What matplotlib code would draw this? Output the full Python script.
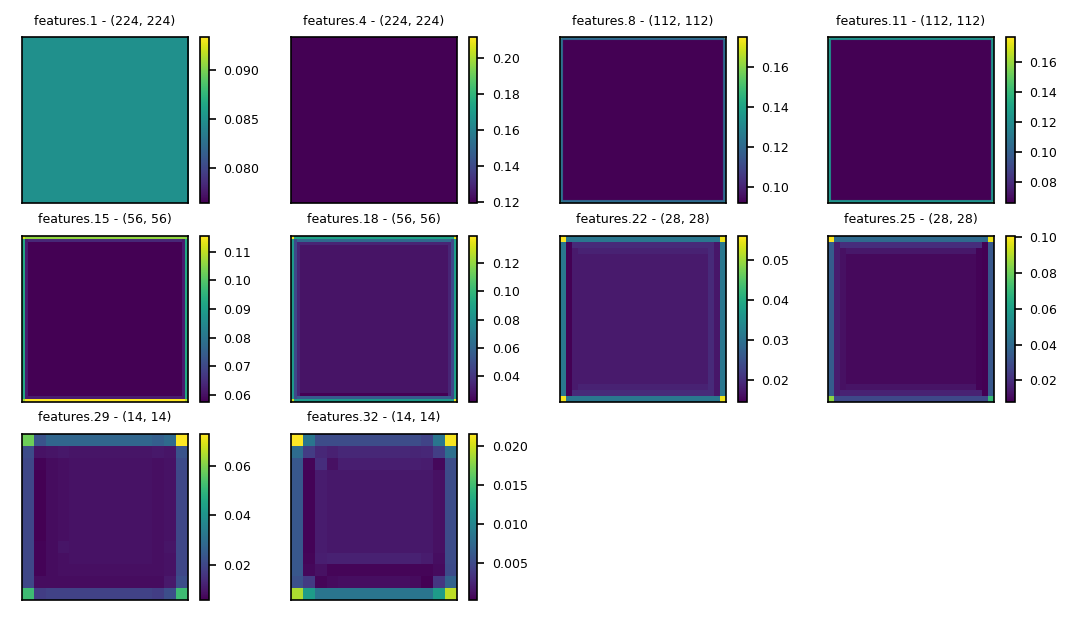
import numpy as np
import matplotlib
matplotlib.use("Agg")
import matplotlib.pyplot as plt

# layer names and map sizes
layer_names = ["features.1", "features.4", "features.8", "features.11", "features.15",
               "features.18", "features.22", "features.25", "features.29", "features.32"]
map_sizes = [224, 224, 112, 112, 56, 56, 28, 28, 14, 14]

# large maps described by rings (outermost first): top, bottom, left, right
# plus centre value and corners (TL, TR, BL, BR)
ring_center = [0.0849, 0.1193, 0.0918, 0.0662, 0.0575, 0.0280, 0.0175, 0.0105]
ring_top = [[], [0.1193], [0.123, 0.120], [0.125, 0.122], [0.106, 0.064], [0.090, 0.062, 0.034],
            [0.031, 0.0195, 0.0185], [0.040, 0.020, 0.014]]
ring_bottom = [[], [0.1193], [0.123, 0.120], [0.125, 0.122], [0.1155, 0.062], [0.085, 0.055, 0.022],
               [0.031, 0.0195, 0.0185], [0.028, 0.017, 0.013]]
ring_left = [[], [0.1193], [0.125, 0.121], [0.125, 0.122], [0.092, 0.062], [0.085, 0.048, 0.034],
             [0.031, 0.0145, 0.0175], [0.035, 0.015, 0.012]]
ring_right = [[], [0.1193], [0.122, 0.119], [0.125, 0.122], [0.092, 0.062], [0.088, 0.048, 0.034],
              [0.031, 0.0170, 0.0195], [0.033, 0.008, 0.009]]
ring_corners = [None, [0.2116, 0.18, 0.17, 0.16], [0.165, 0.1748, 0.15, 0.14],
                [0.1764, 0.172, 0.165, 0.16], [0.113, 0.105, 0.108, 0.110],
                [0.139, 0.135, 0.130, 0.137], [0.0561, 0.055, 0.0555, 0.055],
                [0.1006, 0.098, 0.085, 0.070]]

# 14x14 maps read cell by cell
grid_29 = [
    [0.058, 0.023, 0.028, 0.028, 0.028, 0.028, 0.028, 0.028, 0.028, 0.028, 0.028, 0.026, 0.029, 0.0728],
    [0.021, 0.009, 0.0095, 0.010, 0.0095, 0.0095, 0.0095, 0.0095, 0.0095, 0.0095, 0.0095, 0.010, 0.0095, 0.023],
    [0.020, 0.0065, 0.008, 0.0085, 0.009, 0.009, 0.009, 0.009, 0.009, 0.009, 0.009, 0.0085, 0.009, 0.021],
    [0.020, 0.006, 0.008, 0.0085, 0.009, 0.009, 0.009, 0.009, 0.009, 0.009, 0.009, 0.0085, 0.009, 0.020],
    [0.020, 0.006, 0.008, 0.0085, 0.009, 0.009, 0.009, 0.009, 0.009, 0.009, 0.009, 0.0085, 0.009, 0.020],
    [0.020, 0.0058, 0.008, 0.0085, 0.009, 0.009, 0.009, 0.009, 0.009, 0.009, 0.009, 0.0085, 0.009, 0.020],
    [0.020, 0.006, 0.008, 0.0085, 0.009, 0.009, 0.009, 0.009, 0.009, 0.009, 0.009, 0.0085, 0.009, 0.020],
    [0.020, 0.006, 0.008, 0.0085, 0.009, 0.009, 0.009, 0.009, 0.009, 0.009, 0.009, 0.0085, 0.009, 0.020],
    [0.020, 0.006, 0.008, 0.0085, 0.009, 0.009, 0.009, 0.009, 0.009, 0.009, 0.009, 0.0085, 0.009, 0.020],
    [0.020, 0.0065, 0.008, 0.0095, 0.009, 0.009, 0.009, 0.009, 0.009, 0.009, 0.009, 0.0085, 0.0095, 0.020],
    [0.020, 0.0065, 0.008, 0.0085, 0.009, 0.009, 0.009, 0.009, 0.009, 0.009, 0.009, 0.0085, 0.009, 0.020],
    [0.020, 0.0065, 0.008, 0.0085, 0.0085, 0.0085, 0.0085, 0.0085, 0.0085, 0.0085, 0.0085, 0.0085, 0.009, 0.020],
    [0.020, 0.008, 0.008, 0.008, 0.008, 0.008, 0.008, 0.008, 0.008, 0.008, 0.008, 0.008, 0.0105, 0.022],
    [0.052, 0.018, 0.019, 0.019, 0.019, 0.019, 0.019, 0.019, 0.019, 0.019, 0.019, 0.018, 0.022, 0.052],
]
grid_32 = [
    [0.0216, 0.0085, 0.0052, 0.0052, 0.0052, 0.0052, 0.0052, 0.0052, 0.0052, 0.0052, 0.0052, 0.0045, 0.0085, 0.0214],
    [0.0078, 0.0040, 0.0026, 0.0022, 0.0026, 0.0026, 0.0026, 0.0026, 0.0026, 0.0026, 0.0024, 0.0026, 0.0042, 0.0080],
    [0.0060, 0.0005, 0.0030, 0.0012, 0.0020, 0.0020, 0.0020, 0.0020, 0.0020, 0.0020, 0.0020, 0.0018, 0.0007, 0.0052],
    [0.0060, 0.0004, 0.0018, 0.0016, 0.0016, 0.0016, 0.0016, 0.0016, 0.0016, 0.0016, 0.0016, 0.0016, 0.0012, 0.0052],
    [0.0060, 0.0004, 0.0018, 0.0016, 0.0016, 0.0016, 0.0016, 0.0016, 0.0016, 0.0016, 0.0016, 0.0016, 0.0012, 0.0052],
    [0.0060, 0.0004, 0.0018, 0.0016, 0.0016, 0.0016, 0.0016, 0.0016, 0.0016, 0.0016, 0.0016, 0.0016, 0.0012, 0.0052],
    [0.0060, 0.0004, 0.0018, 0.0016, 0.0016, 0.0016, 0.0016, 0.0016, 0.0016, 0.0016, 0.0016, 0.0016, 0.0012, 0.0052],
    [0.0060, 0.0004, 0.0018, 0.0016, 0.0016, 0.0016, 0.0016, 0.0016, 0.0016, 0.0016, 0.0016, 0.0016, 0.0012, 0.0052],
    [0.0060, 0.0004, 0.0018, 0.0016, 0.0016, 0.0016, 0.0016, 0.0016, 0.0016, 0.0016, 0.0016, 0.0016, 0.0012, 0.0052],
    [0.0060, 0.0004, 0.0018, 0.0016, 0.0016, 0.0016, 0.0016, 0.0016, 0.0016, 0.0016, 0.0016, 0.0016, 0.0012, 0.0052],
    [0.0060, 0.0005, 0.0020, 0.0022, 0.0022, 0.0022, 0.0022, 0.0022, 0.0022, 0.0022, 0.0022, 0.0018, 0.0010, 0.0052],
    [0.0060, 0.0007, 0.0012, 0.0005, 0.0005, 0.0005, 0.0005, 0.0005, 0.0005, 0.0005, 0.0005, 0.0005, 0.0008, 0.0050],
    [0.0055, 0.0038, 0.0005, 0.0008, 0.0010, 0.0010, 0.0010, 0.0010, 0.0010, 0.0010, 0.0008, 0.0002, 0.0036, 0.0070],
    [0.0190, 0.0120, 0.0085, 0.0085, 0.0085, 0.0085, 0.0085, 0.0085, 0.0085, 0.0085, 0.0085, 0.0085, 0.0120, 0.0195],
]


def ring_map(n, center, top, bottom, left, right, corners):
    '''
    Paint a square feature map from its ring values.
    '''
    img = np.full((n, n), center, dtype=float)
    for k in reversed(range(len(top))):
        img[k, k:n - k] = top[k]
        img[n - 1 - k, k:n - k] = bottom[k]
        img[k:n - k, k] = left[k]
        img[k:n - k, n - 1 - k] = right[k]
    if corners is not None:
        img[0, 0], img[0, -1], img[-1, 0], img[-1, -1] = corners
    return img


maps = []
for i in range(len(ring_center)):
    maps.append(ring_map(map_sizes[i], ring_center[i], ring_top[i], ring_bottom[i],
                         ring_left[i], ring_right[i], ring_corners[i]))
maps.append(np.array(grid_29))
maps.append(np.array(grid_32))

W, H = 1071, 622
fig = plt.figure(figsize=(W / 150, H / 150), dpi=150)

lefts = [22, 291, 560, 828]
tops = [37, 236, 434]
size = 166

for i, (name, img) in enumerate(zip(layer_names, maps)):
    r, c = divmod(i, 4)
    x0, y0 = lefts[c], tops[r]
    ax = fig.add_axes([x0 / W, (H - y0 - size) / H, size / W, size / H])
    interp = "antialiased" if img.shape[0] >= 112 else "nearest"
    im = ax.imshow(img, cmap="viridis", interpolation=interp)
    ax.set_xticks([])
    ax.set_yticks([])
    ax.set_title(f"{name} - ({img.shape[0]}, {img.shape[1]})", fontsize=6)
    cax = fig.add_axes([(x0 + 178) / W, (H - y0 - size) / H, 8.5 / W, size / H])
    cb = fig.colorbar(im, cax=cax)
    cb.ax.tick_params(labelsize=6)

fig.savefig("out.png", dpi=150)
